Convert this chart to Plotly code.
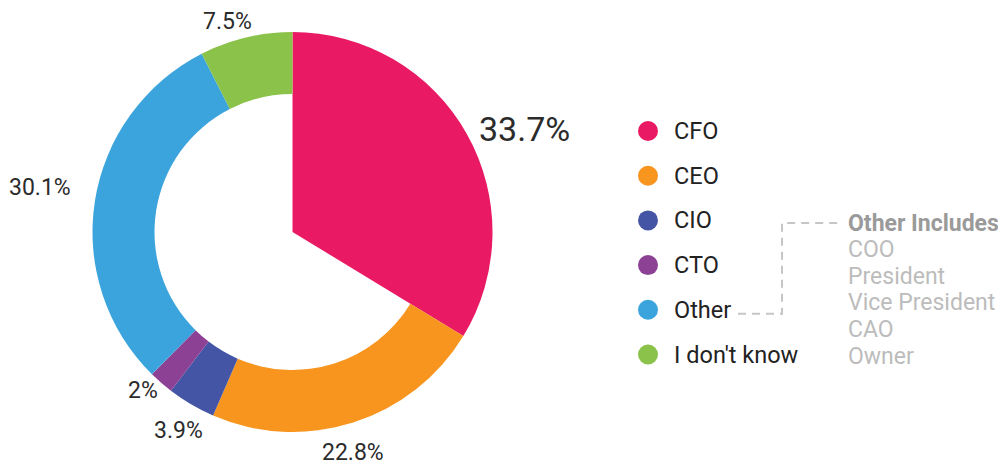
import math
import plotly.graph_objects as go

# page offset (browser body margin) -> figure is drawn 8px in from the window edge
OFF = 8
W, H = 1006 - OFF, 465 - OFF

categories = ["CFO", "CEO", "CIO", "CTO", "Other", "I don't know"]
values = [33.7, 22.8, 3.9, 2.0, 30.1, 7.5]
colors = ["#E91A63", "#F7951F", "#4355A4", "#8C4195", "#3BA4DC", "#8BC24A"]
other_title = "Other Includes"
other_includes = ["COO", "President", "Vice President", "CAO", "Owner"]

# styling / layout configuration (pixel units of the reference window)
label_sizes = [34, 23, 23, 23, 23, 23]
label_nudge = [(1, 0), (-3.5, 5), (19, 2), (5, 0), (-12, -12), (-15.5, 9)]
cx, cy, r, hole = 292.5, 232, 200, 0.69


def px(x):
    return (x - OFF) / W


def py(y):
    return 1 - (y - OFF) / H


pct_text = [f"{v:g}%" for v in values]

dom_x = [px(cx - r), px(cx + r)]
dom_y = [py(cy + r), py(cy - r)]

fig = go.Figure()

# full wedge for the highlighted first category
fig.add_trace(go.Pie(
    labels=categories, values=values, sort=False, direction="clockwise", rotation=0,
    hole=0, domain=dict(x=dom_x, y=dom_y),
    marker=dict(colors=[colors[0]] + ["rgba(0,0,0,0)"] * (len(values) - 1), line=dict(width=0)),
    textinfo="none", hoverinfo="skip", showlegend=False,
))

# donut ring for the remaining categories
fig.add_trace(go.Pie(
    labels=categories, values=values, sort=False, direction="clockwise", rotation=0,
    hole=hole, domain=dict(x=dom_x, y=dom_y),
    marker=dict(colors=["rgba(0,0,0,0)"] + colors[1:], line=dict(width=0)),
    textinfo="none", showlegend=False,
))

shapes = []
annotations = []

# percentage labels placed outside the ring at each slice's mid-angle
total = sum(values)
cum = 0.0
for v, t, fs, (ndx, ndy) in zip(values, pct_text, label_sizes, label_nudge):
    mid = (cum + v / 2) / total * 2 * math.pi
    cum += v
    s, c = math.sin(mid), math.cos(mid)
    R = r + 10
    x, y = cx + R * s, cy - R * c
    xa = "left" if s > 0.35 else ("right" if s < -0.35 else "center")
    ya = "bottom" if c > 0.8 else ("top" if c < -0.8 else "middle")
    annotations.append(dict(x=px(x + ndx), y=py(y + ndy), xref="paper", yref="paper",
                            text=t, showarrow=False, xanchor=xa, yanchor=ya,
                            font=dict(family="Roboto", size=fs, color="#2b2b2b")))

# custom legend
leg_x, leg_y0, leg_dy, rad = 648, 131, 44.7, 10
for i, (lab, col) in enumerate(zip(categories, colors)):
    y = leg_y0 + i * leg_dy
    shapes.append(dict(type="circle", xref="paper", yref="paper",
                       x0=px(leg_x - rad), x1=px(leg_x + rad),
                       y0=py(y + rad), y1=py(y - rad),
                       fillcolor=col, line=dict(width=0)))
    annotations.append(dict(x=px(672), y=py(y), xref="paper", yref="paper",
                            text=lab, showarrow=False, xanchor="left", yanchor="middle",
                            font=dict(family="Roboto", size=23.5, color="#222222")))

# "Other includes" note
ox, oy0, ody = 846, 223, 26.6
annotations.append(dict(x=px(ox), y=py(oy0), xref="paper", yref="paper",
                        text=f"<b>{other_title}</b>", showarrow=False,
                        xanchor="left", yanchor="middle",
                        font=dict(family="Roboto", size=23, color="#9a9a9a")))
for j, t in enumerate(other_includes):
    annotations.append(dict(x=px(ox), y=py(oy0 + (j + 1) * ody), xref="paper", yref="paper",
                            text=t, showarrow=False, xanchor="left", yanchor="middle",
                            font=dict(family="Roboto", size=23, color="#bcbcbc")))

# dashed connector from "Other" to the note
other_y = leg_y0 + 4 * leg_dy + 4
pts = [(738, other_y), (782, other_y), (782, oy0), (838, oy0)]
path = "M " + " L ".join(f"{px(x)},{py(y)}" for x, y in pts)
shapes.append(dict(type="path", xref="paper", yref="paper", path=path,
                   line=dict(color="#c6c6c6", width=2, dash="8px,6px")))

fig.update_layout(
    width=W, height=H, margin=dict(l=0, r=0, t=0, b=0),
    paper_bgcolor="white", plot_bgcolor="white",
    shapes=shapes, annotations=annotations,
    font=dict(family="Roboto"),
)

fig.write_html("out.html")
